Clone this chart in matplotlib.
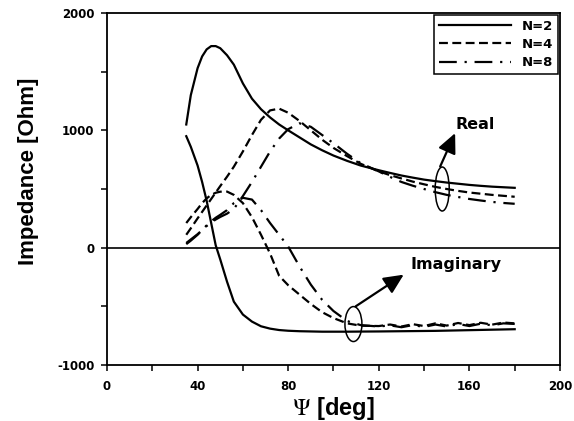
import matplotlib
matplotlib.use("Agg")
import matplotlib.pyplot as plt
from matplotlib.patches import Ellipse

plt.rcParams['font.family'] = ['Liberation Sans', 'DejaVu Sans']
plt.rcParams['mathtext.fontset'] = 'stix'
plt.rcParams['axes.unicode_minus'] = False

# incidence angle grid [deg]
psi = [35, 37, 40, 42, 44, 46, 48, 50, 53, 56, 60, 64, 68, 72, 76, 80, 85, 90,
       95, 100, 106, 112, 120, 125, 130, 135, 140, 145, 150, 155, 160, 165,
       170, 175, 180]

# real part of the impedance [Ohm]
re_n2 = [1050, 1300, 1530, 1630, 1690, 1718, 1718, 1700, 1640, 1560, 1400, 1270,
         1180, 1110, 1050, 1000, 940, 880, 830, 785, 740, 700, 660, 637, 615,
         597, 580, 567, 555, 545, 535, 527, 520, 515, 510]
re_n4 = [110, 165, 250, 305, 360, 415, 470, 525, 605, 690, 820, 960, 1090, 1170,
         1185, 1150, 1080, 1000, 920, 850, 780, 715, 650, 618, 590, 563, 540,
         518, 500, 484, 470, 460, 450, 442, 434]
re_n8 = [40, 70, 115, 150, 185, 215, 240, 262, 290, 330, 440, 560, 690, 820, 930,
         1010, 1060, 1030, 960, 890, 800, 720, 650, 603, 560, 528, 500, 473, 450,
         432, 415, 402, 390, 381, 374]

# imaginary part of the impedance [Ohm]
im_n2 = [950, 860, 700, 560, 400, 210, 20, -100, -290, -460, -570, -630, -670,
         -690, -702, -708, -712, -714, -716, -716, -716, -715, -714, -713, -712,
         -711, -710, -709, -707, -705, -703, -701, -699, -697, -695]
im_n4 = [210, 260, 330, 380, 420, 450, 468, 477, 478, 450, 380, 260, 110, -50,
         -240, -320, -400, -480, -550, -600, -645, -665, -668, -655, -672, -652,
         -668, -645, -664, -642, -660, -640, -656, -638, -645]
im_n8 = [30, 60, 110, 150, 190, 225, 255, 280, 320, 380, 425, 410, 320, 210, 110,
         10, -160, -315, -445, -540, -625, -660, -672, -662, -678, -660, -675,
         -655, -672, -650, -668, -648, -662, -645, -650]

labels = ['N=2', 'N=4', 'N=8']
dash_styles = ['solid', (0, (4, 2)), (0, (8, 3.5, 1, 3.5))]

fig = plt.figure(figsize=(5.74, 4.21), dpi=100)
ax = fig.add_axes([0.1864, 0.1330, 0.7892, 0.8361])

lw = 1.6
for re_vals, im_vals, ls, lab in zip([re_n2, re_n4, re_n8],
                                     [im_n2, im_n4, im_n8],
                                     dash_styles, labels):
    ax.plot(psi, re_vals, color='black', lw=lw, linestyle=ls, label=lab)
    ax.plot(psi, im_vals, color='black', lw=lw, linestyle=ls)

ax.axhline(0, color='black', lw=1.2)

# markers for the two groups of curves
ax.add_patch(Ellipse((148, 500), 6.2, 375, fill=False, ec='black', lw=1.1))
ax.add_patch(Ellipse((108.8, -651), 7.5, 298, fill=False, ec='black', lw=1.1))
arrow = dict(arrowstyle='-|>,head_length=0.6,head_width=0.28',
             color='black', lw=1.6, mutation_scale=20, shrinkA=0, shrinkB=0)
ax.annotate('', xy=(153.7, 976), xytext=(147.1, 692), arrowprops=arrow)
ax.annotate('', xy=(131, -230), xytext=(109.8, -500), arrowprops=arrow)
ax.text(153.8, 1047, 'Real', fontsize=11.5, fontweight='bold',
        family='DejaVu Sans', va='center', ha='left')
ax.text(134, -145, 'Imaginary', fontsize=11.5, fontweight='bold',
        family='DejaVu Sans', va='center', ha='left')

ax.set_xlim(0, 200)
ax.set_ylim(-1000, 2000)
ax.set_xticks([0, 40, 80, 120, 160, 200])
ax.set_xticks([20, 60, 100, 140, 180], minor=True)
ax.set_yticks([-1000, 0, 1000, 2000])
ax.set_yticks([-500, 500, 1500], minor=True)
ax.tick_params(which='both', direction='out', length=4, width=1.1,
               top=False, right=False)
ax.tick_params(axis='x', pad=7)
ax.tick_params(axis='y', pad=5)
for t in ax.get_xticklabels() + ax.get_yticklabels():
    t.set_fontfamily('DejaVu Sans')
    t.set_fontweight('bold')
    t.set_fontsize(8.5)
for s in ax.spines.values():
    s.set_linewidth(1.3)

ax.set_ylabel('Impedance [Ohm]', fontsize=16, fontweight='bold')
ax.yaxis.set_label_coords(-0.15, 0.55)
ax.set_xlabel(r'$\mathrm{\Psi}$ [deg]', fontsize=17, fontweight='bold')
ax.xaxis.set_label_coords(0.5, -0.085)

leg = ax.legend(loc='upper right', handlelength=5.5, fancybox=False,
                borderaxespad=0.15, framealpha=1, edgecolor='black',
                prop={'family': 'DejaVu Sans', 'weight': 'bold', 'size': 9.5},
                labelspacing=0.4, borderpad=0.35, handletextpad=0.8)
leg.get_frame().set_linewidth(1.1)

fig.savefig('out.png', dpi=100)
